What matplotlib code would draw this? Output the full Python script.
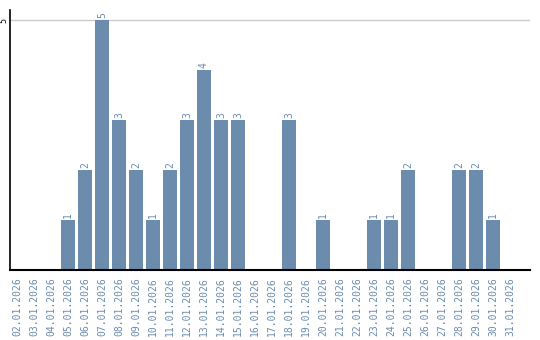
import matplotlib
matplotlib.use("Agg")
import matplotlib.pyplot as plt

dates = ["02.01.2026", "03.01.2026", "04.01.2026", "05.01.2026", "06.01.2026",
         "07.01.2026", "08.01.2026", "09.01.2026", "10.01.2026", "11.01.2026",
         "12.01.2026", "13.01.2026", "14.01.2026", "15.01.2026", "16.01.2026",
         "17.01.2026", "18.01.2026", "19.01.2026", "20.01.2026", "21.01.2026",
         "22.01.2026", "23.01.2026", "24.01.2026", "25.01.2026", "26.01.2026",
         "27.01.2026", "28.01.2026", "29.01.2026", "30.01.2026", "31.01.2026"]
values = [0, 0, 0, 1, 2, 5, 3, 2, 1, 2, 3, 4, 3, 3, 0, 0, 3, 0, 1, 0,
          0, 1, 1, 2, 0, 0, 2, 2, 1, 0]

bar_color = "#6b8cad"
text_color = "#6a8caf"

fig = plt.figure(figsize=(5.4, 3.4), dpi=100)
ax = fig.add_axes([10/540, 70/340, 520/540, 260/340])

x = list(range(len(dates)))
ax.bar(x, values, width=0.82, color=bar_color, zorder=2)
for xi, v in zip(x, values):
    if v > 0:
        ax.text(xi, v + 0.04, str(v), rotation=90, ha="center", va="bottom",
                color=text_color, fontsize=7, family="DejaVu Sans Mono")

ax.set_xlim(-0.41, 30.18)
ax.set_ylim(0, 5.2)
ax.set_xticks(x)
ax.set_xticklabels(dates, rotation=90, fontsize=7, family="DejaVu Sans Mono",
                   color=text_color)
ax.set_yticks([5])
ax.set_yticklabels(["5"], rotation=90, fontsize=6, family="DejaVu Sans Mono",
                   va="center")
ax.tick_params(axis="y", length=0, pad=1)
ax.tick_params(axis="x", length=0, pad=5)
ax.axhline(5, color="#cccccc", lw=1, zorder=1)
for s in ["top", "right"]:
    ax.spines[s].set_visible(False)
ax.spines["left"].set_linewidth(1.2)
ax.spines["bottom"].set_linewidth(1.5)

fig.savefig("out.png", dpi=100)
